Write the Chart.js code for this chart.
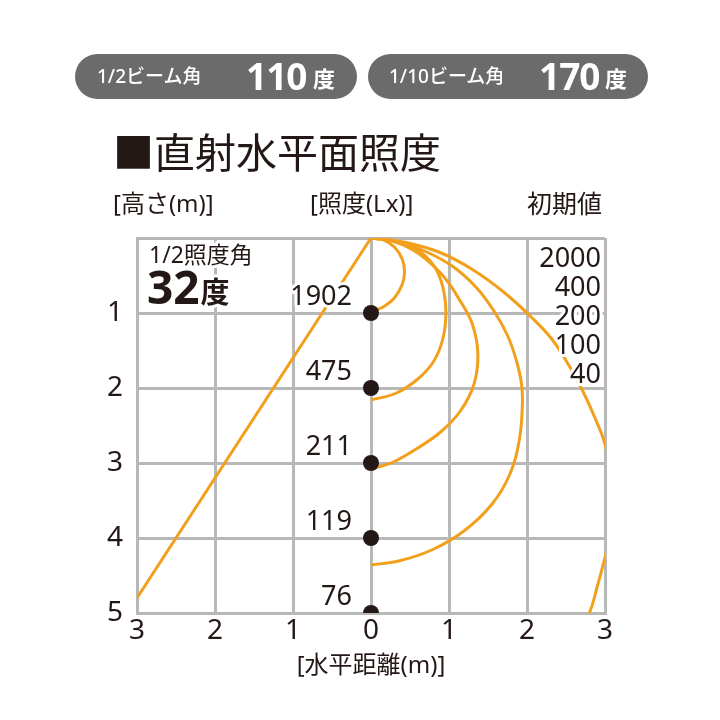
<!DOCTYPE html>
<html lang="ja">
<head>
<meta charset="utf-8">
<title>直射水平面照度</title>
<script src="https://cdn.jsdelivr.net/npm/chart.js@4.4.1/dist/chart.umd.min.js"></script>
<style>
  body { margin: 0; background: #fff; }
  #page { position: relative; width: 720px; height: 720px; overflow: hidden;
          font-family: "Noto Sans", "Noto Sans CJK JP", sans-serif; color: #231815; }
  #page canvas { position: absolute; left: 0; top: 0; }
  .pill { position: absolute; top: 54px; height: 45px; border-radius: 23px; background: #6b6b6b; color: #fff; }
  .pill span { position: absolute; white-space: nowrap; line-height: 1; }
  .pill .lbl { font-size: 19px; font-weight: 500; top: 13px; letter-spacing: 0px; }
  .pill .num { font-size: 37px; font-weight: bold; top: 3px; letter-spacing: -1px; }
  .pill .unit { font-size: 22px; font-weight: bold; top: 13px; }
  .txt { position: absolute; white-space: nowrap; line-height: 1; }
</style>
</head>
<body>
<div id="page">
  <canvas id="chart" width="720" height="720"></canvas>

  <div class="pill" style="left:75px;width:282px">
    <span class="lbl" style="left:22px">1/2ビーム角</span>
    <span class="num" style="left:171px">110</span>
    <span class="unit" style="left:238px">度</span>
  </div>
  <div class="pill" style="left:368px;width:280px">
    <span class="lbl" style="left:21px">1/10ビーム角</span>
    <span class="num" style="left:171px">170</span>
    <span class="unit" style="left:237px">度</span>
  </div>

  <div class="txt" style="left:113px;top:132px;font-size:41px;letter-spacing:0px">■直射水平面照度</div>
  <div class="txt" style="left:113px;top:191px;font-size:24px">[高さ(m)]</div>
  <div class="txt" style="left:310px;top:191px;font-size:24px">[照度(Lx)]</div>
  <div class="txt" style="right:118px;top:191px;font-size:25px">初期値</div>
  <div class="txt" style="left:371px;top:652px;font-size:24px;transform:translateX(-50%)">[水平距離(m)]</div>
</div>

<script>
// --- data (x = horizontal distance m, y = height m) ---
const xTickValues = [-3, -2, -1, 0, 1, 2, 3];
const yTickValues = [0, 1, 2, 3, 4, 5];

const dotHeights = [1, 2, 3, 4, 5];
const dotLux     = ['1902', '475', '211', '119', '76'];

const curveNames = ['2000', '400', '200', '100', '40'];

const halfAngleLine = [{x: 0, y: 0}, {x: -3, y: 4.8}];
const halfAngleTitle = '1/2照度角';
const halfAngleValue = '32';
const halfAngleUnit  = '度';

const curve2000 = [
  {x: 0, y: 0}, {x: 0.15, y: 0.02}, {x: 0.3, y: 0.12}, {x: 0.4, y: 0.28}, {x: 0.43, y: 0.45},
  {x: 0.4, y: 0.62}, {x: 0.3, y: 0.8}, {x: 0.17, y: 0.91}, {x: 0.05, y: 0.97}
];
const curve400 = [
  {x: 0, y: 0}, {x: 0.3, y: 0.04}, {x: 0.58, y: 0.15}, {x: 0.8, y: 0.36}, {x: 0.92, y: 0.65},
  {x: 0.96, y: 1.0}, {x: 0.92, y: 1.35}, {x: 0.8, y: 1.65}, {x: 0.6, y: 1.88}, {x: 0.32, y: 2.07},
  {x: 0, y: 2.16}
];
const curve200 = [
  {x: 0, y: 0}, {x: 0.3, y: 0.05}, {x: 0.6, y: 0.2}, {x: 0.92, y: 0.5}, {x: 1.15, y: 0.85},
  {x: 1.3, y: 1.15}, {x: 1.37, y: 1.54}, {x: 1.32, y: 1.95}, {x: 1.15, y: 2.3}, {x: 0.9, y: 2.58},
  {x: 0.6, y: 2.8}, {x: 0.28, y: 2.99}, {x: 0, y: 3.08}
];
const curve100 = [
  {x: 0, y: 0}, {x: 0.35, y: 0.05}, {x: 0.7, y: 0.18}, {x: 1.05, y: 0.38}, {x: 1.35, y: 0.66},
  {x: 1.58, y: 0.98}, {x: 1.75, y: 1.3}, {x: 1.86, y: 1.62}, {x: 1.93, y: 1.95}, {x: 1.94, y: 2.25},
  {x: 1.9, y: 2.7}, {x: 1.78, y: 3.15}, {x: 1.55, y: 3.55}, {x: 1.2, y: 3.9}, {x: 0.8, y: 4.15},
  {x: 0.38, y: 4.3}, {x: 0, y: 4.36}
];
const curve40 = [
  {x: 0, y: 0}, {x: 0.45, y: 0.06}, {x: 0.9, y: 0.2}, {x: 1.3, y: 0.42}, {x: 1.7, y: 0.72},
  {x: 2.05, y: 1.05}, {x: 2.32, y: 1.35}, {x: 2.55, y: 1.72}, {x: 2.72, y: 2.05}, {x: 2.88, y: 2.42},
  {x: 3.0, y: 2.75}, {x: 3.08, y: 3.2}, {x: 3.1, y: 3.6}, {x: 3.06, y: 4.0}, {x: 2.99, y: 4.3},
  {x: 2.9, y: 4.65}, {x: 2.8, y: 5.0}, {x: 2.6, y: 5.4}
];

// --- style ---
const INK    = '#231815';
const ORANGE = '#f2a01c';
const GRID   = '#b8b8b8';
const FONT   = '"Noto Sans", "Noto Sans CJK JP", sans-serif';

function curveSet(data) {
  return { data, showLine: true, borderColor: ORANGE, borderWidth: 3, tension: 0.4,
           pointRadius: 0, pointHoverRadius: 0, fill: false };
}

function halo(ctx, text, x, y) {
  ctx.strokeStyle = '#fff';
  ctx.lineWidth = 6;
  ctx.strokeText(text, x, y);
  ctx.fillStyle = INK;
  ctx.fillText(text, x, y);
}

// text inside the plot: lux at the centre points, curve legend, half angle
const plotLabels = {
  id: 'plotLabels',
  afterDatasetsDraw(chart) {
    const { ctx, chartArea: a, scales: { x, y } } = chart;
    ctx.save();
    ctx.lineJoin = 'round';
    ctx.textBaseline = 'middle';

    ctx.font = `27px ${FONT}`;
    ctx.textAlign = 'right';
    dotHeights.forEach((h, i) => {
      halo(ctx, dotLux[i], x.getPixelForValue(0) - 19, y.getPixelForValue(h) - 16);
    });

    curveNames.forEach((name, i) => {
      halo(ctx, name, a.right - 4, a.top + 21 + i * 29);
    });

    ctx.textAlign = 'left';
    ctx.font = `23px ${FONT}`;
    halo(ctx, halfAngleTitle, a.left + 12, a.top + 18);
    ctx.font = `bold 46px ${FONT}`;
    halo(ctx, halfAngleValue, a.left + 10, a.top + 53);
    const w = ctx.measureText(halfAngleValue).width;
    ctx.font = `bold 29px ${FONT}`;
    halo(ctx, halfAngleUnit, a.left + 11 + w, a.top + 57);
    ctx.restore();
  }
};

new Chart(document.getElementById('chart'), {
  type: 'scatter',
  data: {
    datasets: [
      { data: dotHeights.map(h => ({ x: 0, y: h })), pointRadius: 8, pointBackgroundColor: INK,
        pointBorderWidth: 0, showLine: false, clip: 0 },
      curveSet(curve2000),
      curveSet(curve400),
      curveSet(curve200),
      curveSet(curve100),
      curveSet(curve40),
      { data: halfAngleLine, showLine: true, borderColor: ORANGE, borderWidth: 3, tension: 0,
        pointRadius: 0, fill: false }
    ]
  },
  options: {
    responsive: false,
    animation: false,
    events: [],
    layout: { padding: { left: 100, right: 115, top: 238, bottom: 57 } },
    plugins: { legend: { display: false }, tooltip: { enabled: false } },
    scales: {
      x: {
        type: 'linear', min: -3, max: 3,
        afterBuildTicks: s => { s.ticks = xTickValues.map(v => ({ value: v })); },
        afterFit: s => { s.height = 50; },
        ticks: { callback: v => Math.abs(v), color: INK, padding: 1,
                 font: { family: FONT, size: 28 } },
        grid: { color: GRID, lineWidth: 3, drawTicks: false },
        border: { color: GRID, width: 3 }
      },
      y: {
        type: 'linear', min: 0, max: 5, reverse: true,
        afterBuildTicks: s => { s.ticks = yTickValues.map(v => ({ value: v })); },
        afterFit: s => { s.width = 37; },
        ticks: { callback: v => (v === 0 ? '' : v), color: INK, padding: 14,
                 font: { family: FONT, size: 28 } },
        grid: { color: GRID, lineWidth: 3, drawTicks: false },
        border: { color: GRID, width: 3 }
      }
    }
  },
  plugins: [plotLabels]
});
</script>
</body>
</html>
